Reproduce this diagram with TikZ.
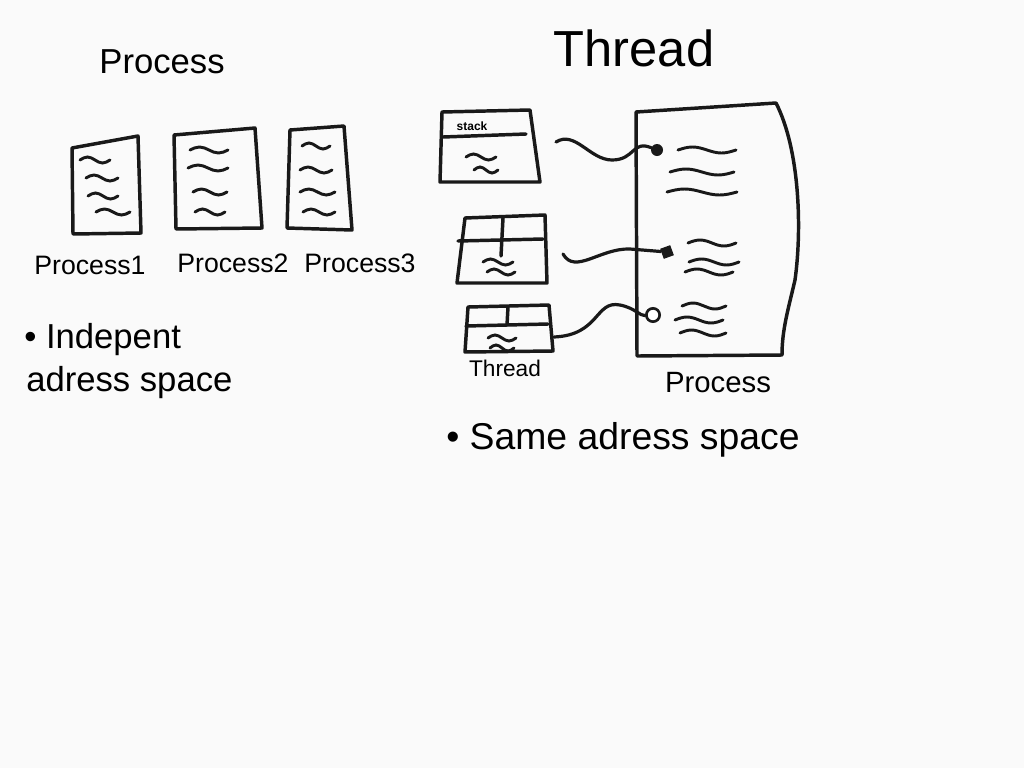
\documentclass[tikz,border=0pt]{standalone}
\usepackage{fontspec}
\setmainfont{Liberation Sans}
\begin{document}
\begin{tikzpicture}[x=0.75pt,y=-0.75pt,
  ink/.style={line width=2.6pt,line cap=round,line join=round,black!90},
  scrib/.style={line width=2.2pt,line cap=round,black!90},
  lbl/.style={inner sep=0pt,font=\fontsize{20}{24}\selectfont},
  title/.style={inner sep=0pt},
  dotc/.style={circle,fill=black!90,inner sep=0pt,minimum size=9pt},
  dots/.style={rectangle,fill=black!90,inner sep=0pt,minimum size=8pt,rotate=20},
  doto/.style={circle,draw=black!90,line width=2pt,fill=white,inner sep=0pt,minimum width=7pt,minimum height=10pt},
  conn/.style={line width=2.4pt,line cap=round,black!90}]
\useasboundingbox (0,0) rectangle (1024,768);
\fill[white!98!black] (0,0) rectangle (1024,768);
\newcommand{\sq}[3]{\draw[scrib] (#1,#2) sin +(#3/4,-3) cos +(#3/4,3) sin +(#3/4,3) cos +(#3/4,-3);}
% titles
\node[title,font=\fontsize{26}{30}\selectfont] (tp) at (162,62) {Process};
\node[title,font=\fontsize{38}{42}\selectfont] (tt) at (634,48) {Thread};
% process boxes
\draw[ink] (72,148) -- (138,136) -- (141,233) -- (73,234) -- cycle;
\node[inner sep=0pt,minimum width=68pt,minimum height=95pt] (p1) at (106,186) {};
\sq{80}{160}{30}\sq{86}{178}{32}\sq{88}{196}{30}\sq{96}{212}{34}
\draw[ink] (174,135) -- (255,128) -- (262,228) -- (176,229) -- cycle;
\node[inner sep=0pt] (p2) at (217,180) {};
\sq{190}{150}{38}\sq{188}{168}{40}\sq{193}{192}{34}\sq{195}{212}{30}
\draw[ink] (290,130) -- (344,126) -- (352,230) -- (287,228) -- cycle;
\node[inner sep=0pt] (p3) at (318,178) {};
\sq{302}{146}{28}\sq{300}{170}{32}\sq{300}{192}{35}\sq{303}{212}{32}
\node[lbl] (l1) at (90,265) {Process1};
\node[lbl] (l2) at (233,263) {Process2};
\node[lbl] (l3) at (360,263) {Process3};
\node[lbl,anchor=west,font=\fontsize{26}{30}\selectfont] (ind) at (24,340) {• Indepent};
\node[lbl,anchor=west,font=\fontsize{26}{30}\selectfont] (ads) at (26,383) {adress space};
% thread boxes
\draw[ink] (442,112) -- (530,110) -- (540,182) -- (440,182) -- cycle;
\draw[ink] (443,137) -- (526,134);
\node[inner sep=0pt,font=\fontsize{9}{10}\selectfont\bfseries] (stk) at (472,126) {stack};
\node[inner sep=0pt,minimum width=75pt,minimum height=54pt] (t1) at (490,146) {};
\sq{466}{157}{30}\sq{474}{170}{24}
\draw[ink] (465,218) -- (545,215) -- (547,283) -- (457,283) -- cycle;
\draw[ink] (458,241) -- (543,239);
\draw[ink] (503,218) -- (501,256);
\node[inner sep=0pt,minimum width=68pt,minimum height=50pt] (t2) at (502,250) {};
\sq{483}{262}{30}\sq{487}{272}{28}
\draw[ink] (468,307) -- (549,305) -- (553,351) -- (465,352) -- cycle;
\draw[ink] (466,326) -- (548,324);
\draw[ink] (508,307) -- (507,325);
\node[inner sep=0pt,minimum width=66pt,minimum height=35pt] (t3) at (509,329) {};
\sq{488}{338}{28}\sq{490}{348}{24}
\node[lbl,font=\fontsize{17}{20}\selectfont] (lt) at (505,368) {Thread};
% big process
\draw[ink] (636,112) -- (776,103) .. controls (800,150) and (802,230) .. (795,280) .. controls (788,310) and (782,330) .. (782,355) -- (637,356) -- cycle;
\node[inner sep=0pt,minimum width=120pt,minimum height=190pt] (bp) at (716,230) {};
\sq{678}{150}{58}\sq{670}{172}{64}\sq{667}{192}{70}
\sq{688}{243}{48}\sq{689}{262}{50}\sq{685}{272}{48}
\sq{682}{306}{44}\sq{675}{320}{48}\sq{680}{333}{46}
\node[lbl,font=\fontsize{22}{26}\selectfont] (lp) at (718,383) {Process};
% attachment points
\node[dotc] (d1) at (657,150) {};
\node[dots] (d2) at (667,252) {};
\node[doto] (d3) at (653,315) {};
\coordinate (s1) at (556,142);
\coordinate (s2) at (563,254);
\coordinate (s3) at (554,337);
\draw[conn] (s1) .. controls (575,130) and (590,160) .. (612,160) .. controls (635,160) and (632,140) .. (d1);
\draw[conn] (s2) .. controls (575,275) and (600,248) .. (630,249) -- (d2);
\draw[conn] (s3) .. controls (600,335) and (595,300) .. (620,305) .. controls (635,308) and (640,316) .. (d3);
% bottom note
\node[lbl,anchor=west,font=\fontsize{28}{32}\selectfont] (same) at (446,440) {• Same adress space};
\end{tikzpicture}
\end{document}
